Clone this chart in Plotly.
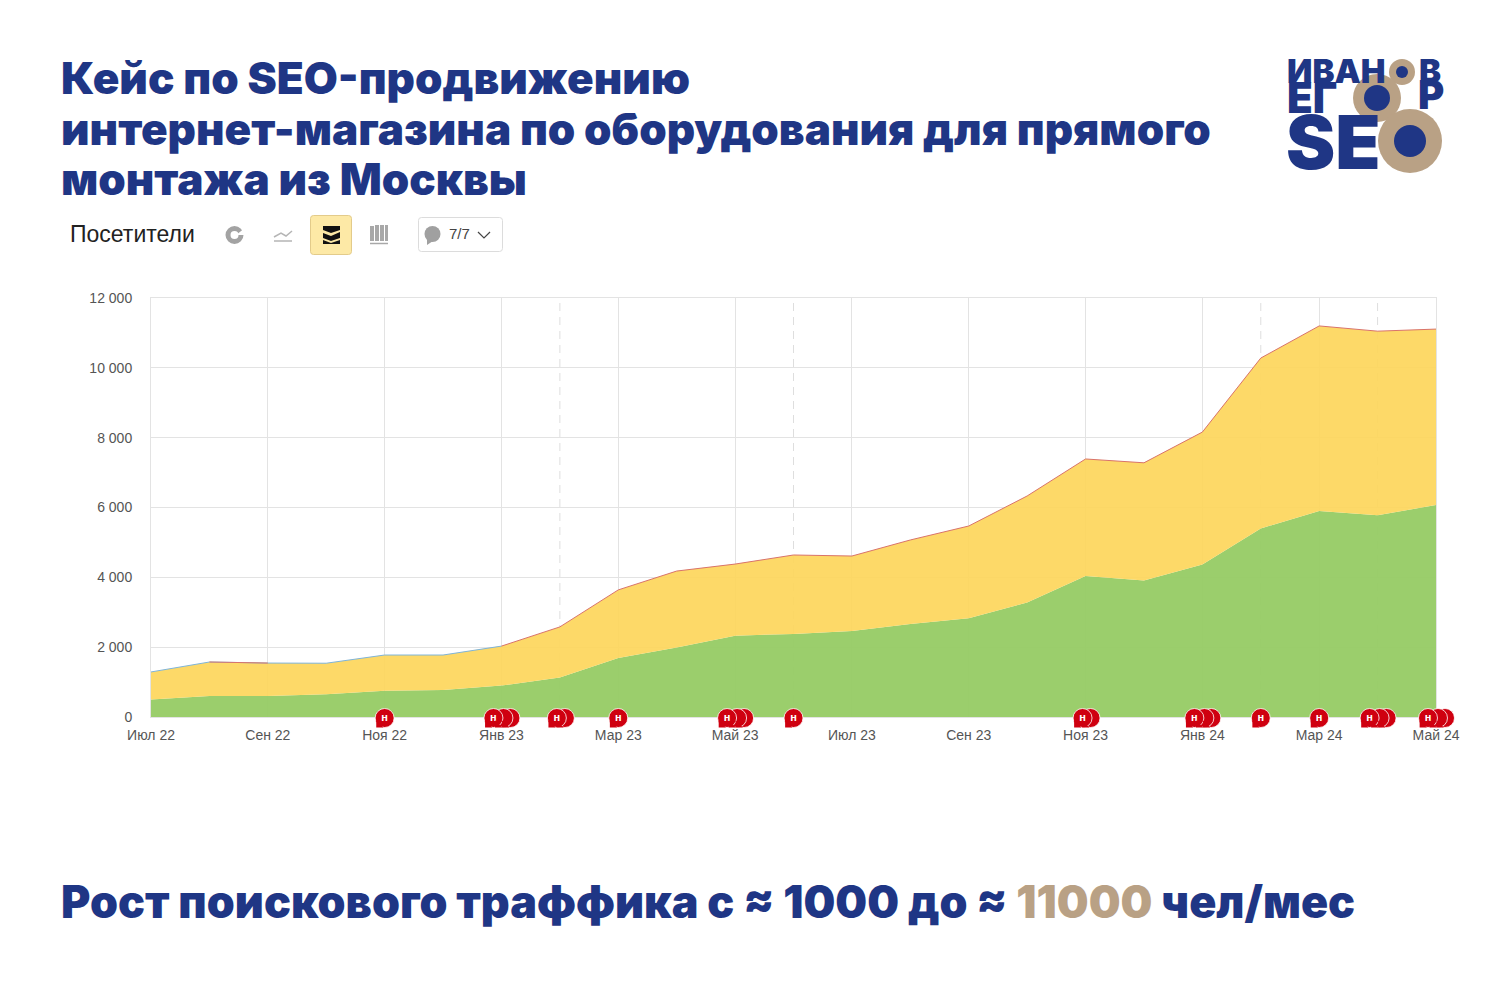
import plotly.graph_objects as go

# data
months = ["Июл 22", "Авг 22", "Сен 22", "Окт 22", "Ноя 22", "Дек 22", "Янв 23", "Фев 23", "Мар 23", "Апр 23", "Май 23", "Июн 23",
          "Июл 23", "Авг 23", "Сен 23", "Окт 23", "Ноя 23", "Дек 23", "Янв 24", "Фев 24", "Мар 24", "Апр 24", "Май 24"]
green = [500, 600, 600, 650, 750, 770, 900, 1130, 1690, 1990, 2330, 2380,
         2460, 2660, 2830, 3280, 4040, 3910, 4370, 5400, 5900, 5780, 6070]
total = [1290, 1575, 1545, 1540, 1775, 1775, 2030, 2580, 3640, 4180, 4380, 4640,
         4610, 5070, 5470, 6330, 7390, 7280, 8160, 10280, 11200, 11050, 11110]
yellow = [t - g for t, g in zip(total, green)]
y_ticks = [0, 2000, 4000, 6000, 8000, 10000, 12000]
y_labels = ["0", "2 000", "4 000", "6 000", "8 000", "10 000", "12 000"]
tick_months = list(range(0, 23, 2))
dashed_months = [7, 11, 19, 21]
# month index -> how many notes are stacked there
note_months = [4, 6, 7, 8, 10, 11, 16, 18, 19, 20, 21, 22]
note_counts = [1, 3, 2, 1, 3, 1, 2, 3, 1, 1, 3, 3]

BLUE = "#1f3685"
BEIGE = "#b9a185"
RED = "#cf0010"
STEP = (1436 - 151) / 22  # px per month
OFFSETS = {1: [0], 2: [5, -3], 3: [9, 2, -8]}  # back to front, px
PAGE = 8  # the browser's body margin
W, H = 1500 - PAGE, 1000 - PAGE


def px(x):
    return (x - PAGE) / W


def py(y):
    return 1 - (y - PAGE) / H


def path(points, close=False):
    s = "M " + " L ".join(f"{px(x):.5f},{py(y):.5f}" for x, y in points)
    return s + (" Z" if close else "")


def round_rect(x0, y0, x1, y1, r, fill, line):
    p = (f"M {px(x0 + r):.5f},{py(y0):.5f} L {px(x1 - r):.5f},{py(y0):.5f} Q {px(x1):.5f},{py(y0):.5f} {px(x1):.5f},{py(y0 + r):.5f} "
         f"L {px(x1):.5f},{py(y1 - r):.5f} Q {px(x1):.5f},{py(y1):.5f} {px(x1 - r):.5f},{py(y1):.5f} "
         f"L {px(x0 + r):.5f},{py(y1):.5f} Q {px(x0):.5f},{py(y1):.5f} {px(x0):.5f},{py(y1 - r):.5f} "
         f"L {px(x0):.5f},{py(y0 + r):.5f} Q {px(x0):.5f},{py(y0):.5f} {px(x0 + r):.5f},{py(y0):.5f} Z")
    return dict(type="path", xref="paper", yref="paper", path=p, fillcolor=fill, line=dict(color=line, width=1))


def circle(cx, cy, r, fill, line_w=0, line="rgba(0,0,0,0)"):
    return dict(type="circle", xref="paper", yref="paper", x0=px(cx - r), x1=px(cx + r), y0=py(cy + r), y1=py(cy - r),
                fillcolor=fill, line=dict(color=line, width=line_w))


def poly(points, fill):
    return dict(type="path", xref="paper", yref="paper", path=path(points, True), fillcolor=fill, line=dict(width=0))


def stroke(points, color, w):
    return dict(type="path", xref="paper", yref="paper", path=path(points), line=dict(color=color, width=w))


def label(x, y, text, size, color, family="Inter", weight=900, anchor="left"):
    return dict(xref="paper", yref="paper", x=px(x), y=py(y), text=text, showarrow=False, xanchor=anchor, yanchor="middle",
                font=dict(family=family, size=size, color=color, weight=weight), borderpad=0, borderwidth=0)


fig = go.Figure()
idx = list(range(len(months)))
fig.add_trace(go.Scatter(x=idx, y=green, stackgroup="a", mode="none", fillcolor="rgba(150,203,100,0.95)", name="Поисковые"))
fig.add_trace(go.Scatter(x=idx, y=yellow, stackgroup="a", mode="none", fillcolor="rgba(253,214,92,0.93)", name="Прочие"))

blue_seg = [t if i in (0, 1, 2, 3, 4, 5, 6) else None for i, t in enumerate(total)]
red_seg = [t if i >= 6 or i in (1, 2) else None for i, t in enumerate(total)]
fig.add_trace(go.Scatter(x=idx, y=blue_seg, mode="lines", line=dict(color="#7fb4d8", width=1)))
fig.add_trace(go.Scatter(x=idx, y=red_seg, mode="lines", line=dict(color="#d9736a", width=1)))

# note bubbles, back ones first, on a hidden overlay axis so they can hang below zero
note_x, note_text = [], []
for m, c in zip(note_months, note_counts):
    for k, off in enumerate(OFFSETS[c]):
        note_x.append(m + off / STEP)
        note_text.append("н" if k == c - 1 else "")
note_tail = [xv - 6 / STEP for xv in note_x]
fig.add_trace(go.Scatter(x=note_x, y=[0] * len(note_x), xaxis="x2", yaxis="y2", mode="markers+text", text=note_text,
                         textposition="middle center", textfont=dict(family="Liberation Sans", size=11, color="white", weight=700),
                         marker=dict(symbol="circle", size=19, color=RED, line=dict(color="white", width=0.8))))
fig.add_trace(go.Scatter(x=note_tail, y=[-7] * len(note_x), xaxis="x2", yaxis="y2", mode="markers",
                         marker=dict(symbol="triangle-sw", size=8, color=RED, line=dict(width=0))))

shapes = []
for m in dashed_months:
    shapes.append(dict(type="line", xref="x", yref="y", x0=m, x1=m, y0=0, y1=12000, layer="below",
                       line=dict(color="#dedede", width=1, dash="8px,6px")))

# toolbar
shapes.append(circle(234.5, 235, 6.5, "rgba(0,0,0,0)", 5, "#a3a3a3"))
shapes.append(poly([(236, 235), (245, 228), (245, 235)], "white"))
shapes.append(stroke([(274, 237), (281, 233), (286, 236), (292, 231)], "#b5b5b5", 1.5))
shapes.append(stroke([(274, 241), (292, 241)], "#b5b5b5", 1.5))
shapes.append(round_rect(310.5, 215.5, 351.5, 254.5, 3, "#fde9a6", "#e3cb8a"))
shapes.append(poly([(323, 226), (340, 226), (340, 230), (331, 233), (323, 230)], "#111111"))
shapes.append(poly([(323, 233), (331, 236), (340, 232), (340, 238), (331, 241), (323, 238)], "#111111"))
shapes.append(poly([(323, 240), (331, 243), (340, 240), (340, 244), (323, 244)], "#111111"))
for x0, x1, y0 in [(370, 374, 226), (375, 379, 225), (380, 384, 225), (385, 388, 225)]:
    shapes.append(poly([(x0, y0), (x1, y0), (x1, 241), (x0, 241)], "#a8a8a8"))
shapes.append(stroke([(370, 243.5), (388, 243.5)], "#a8a8a8", 1.5))
shapes.append(round_rect(418.5, 217.5, 502.5, 251.5, 3, "white", "#dcdcdc"))
shapes.append(circle(432.5, 234, 8, "#a0a0a0"))
shapes.append(poly([(427, 238), (433, 241), (427, 245)], "#a0a0a0"))
shapes.append(stroke([(478, 232), (484, 238), (490, 232)], "#444444", 1.2))

# logo
shapes.append(circle(1402, 72, 13, BEIGE))
shapes.append(circle(1402, 72, 6, BLUE))
shapes.append(circle(1377, 98, 24, BEIGE))
shapes.append(circle(1377, 98, 13, BLUE))
shapes.append(circle(1410, 141, 32, BEIGE))
shapes.append(circle(1410, 141, 16, BLUE))

notes = [
    label(61, 78, "Кейс по SEO-продвижению", 44, BLUE),
    label(61, 129, "интернет-магазина по оборудования для прямого", 44, BLUE),
    label(61, 179, "монтажа из Москвы", 44, BLUE),
    label(61, 902, f'Рост поискового траффика с ≈ 1000 до ≈ <span style="color:{BEIGE}">11000</span> чел/мес', 44.8, BLUE),
    label(70, 234, "Посетители", 23, "#222222", "Liberation Sans", 400),
    label(449, 234, "7/7", 15, "#444444", "Liberation Sans", 400),
    label(1287, 71, "ИВАН", 33, BLUE),
    label(1419, 71, "В", 33, BLUE),
    label(1287, 98, "ЕГ", 42, BLUE),
    label(1418, 95, "Р", 40, BLUE),
    label(1286, 142, "SE", 74, BLUE),
]

fig.update_layout(
    width=W, height=H,
    margin=dict(l=0, r=0, t=0, b=0),
    paper_bgcolor="white", plot_bgcolor="rgba(0,0,0,0)",
    showlegend=False,
    shapes=shapes, annotations=notes,
    font=dict(family="Liberation Sans", color="#555555", size=14),
    xaxis=dict(domain=[px(151), px(1436)], range=[0, 22], tickmode="array", tickvals=tick_months,
               ticktext=[months[i] for i in tick_months], showgrid=True, gridcolor="#e3e3e3", gridwidth=1,
               zeroline=False, showline=True, linecolor="#e3e3e3", mirror=True, ticks="", ticklabelstandoff=5, automargin=False,
               tickfont=dict(family="Liberation Sans", size=14, color="#555555")),
    yaxis=dict(domain=[py(717), py(298)], range=[0, 12000], tickmode="array", tickvals=y_ticks, ticktext=y_labels,
               showgrid=True, gridcolor="#e3e3e3", gridwidth=1, zeroline=False, showline=True, linecolor="#e3e3e3", mirror=True,
               ticks="", ticklabelstandoff=15, automargin=False,
               tickfont=dict(family="Liberation Sans", size=14, color="#555555")),
    # overlay axes for the bubbles: same px per month as the main axis, y in px around the baseline
    xaxis2=dict(domain=[px(111), px(1476)], range=[(111 - 151) / STEP, (1476 - 151) / STEP], visible=False, anchor="y2", automargin=False),
    yaxis2=dict(domain=[py(738), py(698)], range=[-20, 20], visible=False, anchor="x2", automargin=False),
)
fig.write_html("out.html")
